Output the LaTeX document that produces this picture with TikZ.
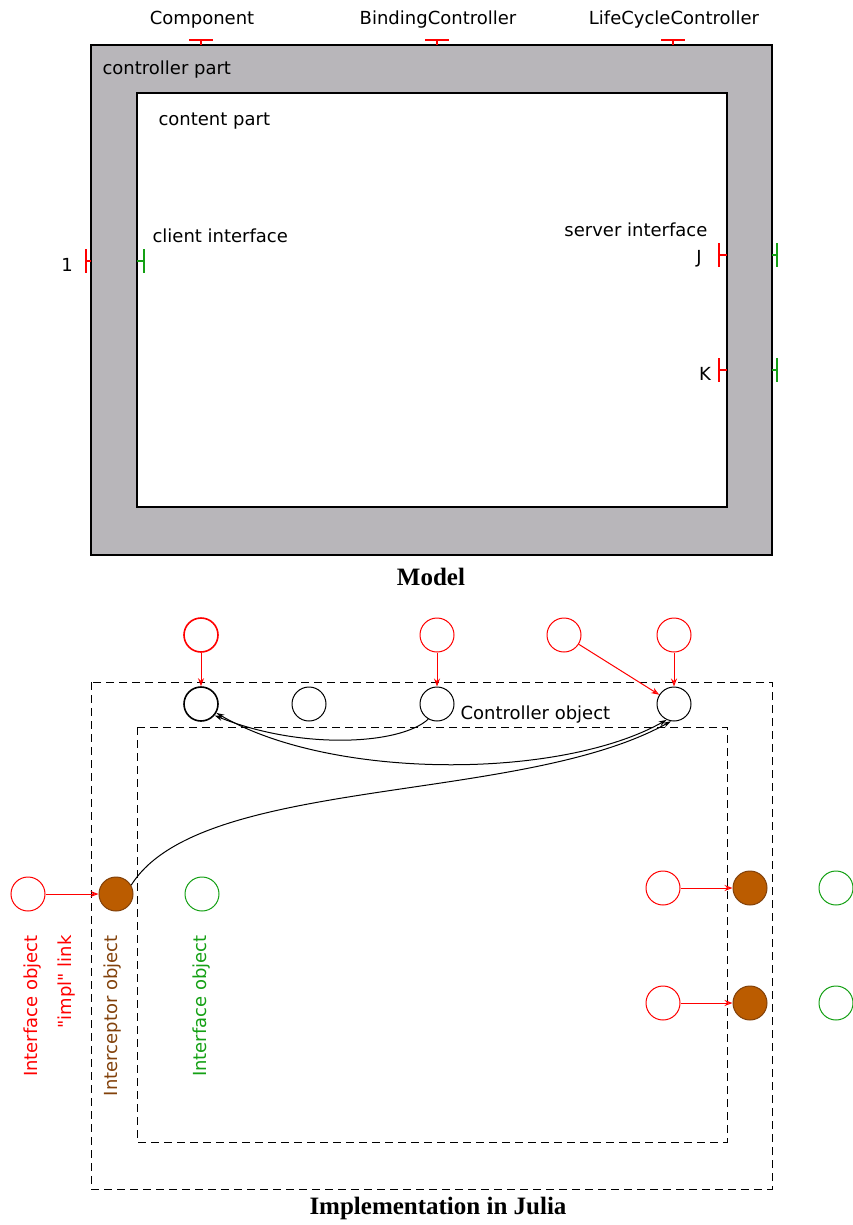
\documentclass[tikz,border=0pt]{standalone}
\usepackage{fontspec}
\setmainfont{DejaVu Sans}[Ligatures=TeXOff]
\newfontfamily\titlefont{Liberation Serif}
\usetikzlibrary{arrows.meta}
\definecolor{ctrlgray}{RGB}{184,182,186}
\definecolor{brownfill}{RGB}{187,92,0}
\definecolor{browndraw}{RGB}{130,65,10}
\definecolor{mygreen}{RGB}{20,160,20}
\begin{document}
\begin{tikzpicture}[x=1pt,y=-1pt,
  font=\fontsize{18}{21}\selectfont,
  obj/.style={circle, minimum size=34pt, inner sep=0pt, line width=1pt},
  redobj/.style={obj, draw=red},
  blackobj/.style={obj, draw=black},
  greenobj/.style={obj, draw=mygreen},
  brownobj/.style={obj, draw=browndraw, fill=brownfill},
  redarrow/.style={draw=red, line width=1pt, -{Stealth[length=8pt,width=6pt,open]}},
  blackarrow/.style={draw=black, line width=1pt, -{Stealth[length=8pt,width=5pt]}},
  redmark/.style={draw=red, line width=1.2pt},
  greenmark/.style={draw=mygreen, line width=1.2pt},
  dashbox/.style={draw=black, line width=1pt, dash pattern=on 8pt off 5pt},
  title/.style={font=\titlefont\bfseries\fontsize{25}{29}\selectfont},
  rotlabel/.style={rotate=90, anchor=east, inner sep=0pt}
]
\useasboundingbox (0,0) rectangle (853,1225);

% ---------------- Model ----------------
\fill[ctrlgray] (91,45) rectangle (772,555);
\draw[line width=1.2pt] (91,45) rectangle (772,555);
\draw[line width=1.2pt, fill=white] (137,93) rectangle (727,507);

\node[anchor=west] (ctrlpart) at (99,70) {controller part};
\node[anchor=west] (contpart) at (155,121) {content part};

% top controller interfaces
\foreach \x/\n/\t in {201/comp/Component, 437/bind/BindingController, 673/lcc/LifeCycleController}{
  \draw[redmark] (\x-12,40) -- (\x+12,40) (\x,40) -- (\x,45);
  \node (\n) at (\x+1,20) {\t};
}

% left client interface
\draw[redmark] (86,249) -- (86,273) (86,261) -- (91,261);
\draw[greenmark] (144,249) -- (144,273) (137,261) -- (144,261);
\node (one) at (67,265) {1};
\node[anchor=west] (client) at (149,236) {client interface};

% right server interfaces
\node[anchor=east] (server) at (711,230) {server interface};
\foreach \y/\l in {255/J, 370/K}{
  \draw[redmark] (719,\y-12) -- (719,\y+12) (719,\y) -- (727,\y);
  \draw[greenmark] (777,\y-12) -- (777,\y+12) (772,\y) -- (777,\y);
}
\node (labJ) at (699,259) {J};
\node (labK) at (705,374) {K};

\node[title] (model) at (431,577) {Model};

% ---------------- Implementation ----------------
\draw[dashbox] (91,682) rectangle (772,1189);
\draw[dashbox] (137,727) rectangle (727,1142);

% controller objects
\node[blackobj, line width=1.6pt] (c1) at (201,704) {};
\node[blackobj] (c2) at (309,704) {};
\node[blackobj] (c3) at (437,704) {};
\node[blackobj] (c4) at (674,704) {};
\node[anchor=west] (ctrlobj) at (457,715) {Controller object};

% top red interface objects
\node[redobj, line width=1.6pt] (r1) at (201,635) {};
\node[redobj] (r3) at (437,635) {};
\node[redobj] (r4a) at (564,635) {};
\node[redobj] (r4) at (674,635) {};

\draw[redarrow] (r1) -- (c1);
\draw[redarrow] (r3) -- (c3);
\draw[redarrow] (r4) -- (c4);
\draw[redarrow] (r4a) -- (c4);

% row with interceptors
\node[redobj] (li) at (28,894) {};
\node[brownobj] (lb) at (116,894) {};
\node[greenobj] (lg) at (202,894) {};

\node[redobj] (ri1) at (663,888) {};
\node[brownobj] (rb1) at (750,888) {};
\node[greenobj] (rg1) at (836,888) {};

\node[redobj] (ri2) at (663,1003) {};
\node[brownobj] (rb2) at (750,1003) {};
\node[greenobj] (rg2) at (836,1003) {};

\draw[redarrow] (li) -- (lb);
\draw[redarrow] (ri1) -- (rb1);
\draw[redarrow] (ri2) -- (rb2);

% black connectors
\draw[blackarrow] (c3.240) .. controls (400,745) and (300,750) .. (c1.-40);
\draw[blackarrow, {Stealth[length=8pt,width=5pt]}-{Stealth[length=8pt,width=5pt]}] (c1.-30) .. controls (330,780) and (560,780) .. (c4.245);
\draw[draw=black, line width=1pt, -{Stealth[length=8pt,width=5pt,open]}] (lb.30) .. controls (200,775) and (520,805) .. (c4.260);

% rotated labels
\node[rotlabel, text=red] (lab1) at (33,935) {Interface object};
\node[rotlabel, text=red] (lab2) at (67,935) {"impl" link};
\node[rotlabel, text=browndraw] (lab3) at (113,935) {Interceptor object};
\node[rotlabel, text=mygreen] (lab4) at (202,935) {Interface object};

\node[title] (impl) at (438,1208) {Implementation in Julia};
\end{tikzpicture}
\end{document}
